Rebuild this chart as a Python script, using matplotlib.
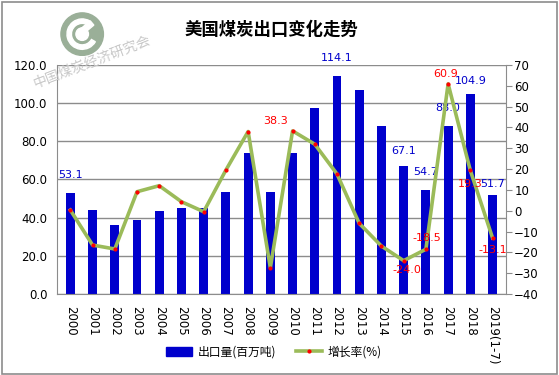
import matplotlib.pyplot as plt
from matplotlib.patches import Rectangle, Circle, Wedge
from matplotlib.lines import Line2D
import numpy as np

plt.rcParams['font.family'] = ['DejaVu Sans', 'Noto Sans CJK SC']

# data
years = ['2000', '2001', '2002', '2003', '2004', '2005', '2006', '2007', '2008', '2009',
         '2010', '2011', '2012', '2013', '2014', '2015', '2016', '2017', '2018', '2019(1-7)']
exports = [53.1, 44.0, 36.2, 38.8, 43.5, 45.2, 45.2, 53.6, 74.1, 53.6,
           74.1, 97.6, 114.1, 107.0, 88.0, 67.1, 54.7, 88.0, 104.9, 51.7]
growth = [0.3, -16.5, -18.4, 9.1, 12.0, 4.3, -0.5, 19.5, 38.0, -27.4,
          38.3, 31.9, 17.6, -6.1, -17.0, -24.0, -18.5, 60.9, 19.3, -13.1]

# which points get value labels (index: offset in points)
bar_labelled = {0: 13, 12: 13, 15: 11, 16: 13, 17: 13, 18: 9, 19: 8}
line_labelled = {10: (-12, 7), 15: (2, -7), 16: (1, 8), 17: (-2, 7), 18: (0, -10), 19: (0, -9)}

blue = '#0000CC'
green = '#9BBB59'
red = '#FF0000'

fig = plt.figure(figsize=(5.59, 3.75), dpi=100)
fig.patches.append(Rectangle((0.004, 0.004), 0.992, 0.99, transform=fig.transFigure,
                             fill=False, edgecolor='#8c8c8c', lw=1.2))

ax = fig.add_axes([0.102, 0.216, 0.803, 0.611])
x = np.arange(len(years))

ax.bar(x, exports, width=0.4, color=blue, zorder=2)
ax.set_ylim(0, 120)
ax.set_yticks(np.arange(0, 121, 20))
ax.set_yticklabels([f'{v:.1f}' for v in np.arange(0, 121, 20)], fontsize=8.5)
ax.set_xlim(-0.6, len(years) - 0.4)
ax.set_xticks(x)
ax.set_xticklabels(years, rotation=-90, fontsize=8.5)
ax.tick_params(axis='y', length=0, pad=7)
ax.tick_params(axis='x', length=0, pad=9)
ax.grid(axis='y', color='#8c8c8c', lw=1, zorder=0)
ax.set_axisbelow(True)
for s in ['top', 'right']:
    ax.spines[s].set_visible(False)
for s in ['left', 'bottom']:
    ax.spines[s].set_color('#8c8c8c')

for i, off in bar_labelled.items():
    ax.annotate(f'{exports[i]:.1f}', (x[i], exports[i]), xytext=(0, off),
                textcoords='offset points', color=blue, ha='center', va='center',
                fontsize=8, annotation_clip=False, zorder=5)

ax2 = ax.twinx()
ax2.plot(x, growth, color=green, lw=2.6, zorder=3)
ax2.plot(x, growth, ls='none', marker='o', ms=2, color=red, zorder=4)
ax2.set_ylim(-40, 70)
ax2.set_yticks(np.arange(-40, 71, 10))
ax2.tick_params(axis='y', labelsize=8.5, length=4, color='#8c8c8c', pad=2)
for s in ['top', 'left', 'bottom']:
    ax2.spines[s].set_visible(False)
ax2.spines['right'].set_color('#8c8c8c')

for i, (dx, dy) in line_labelled.items():
    ax2.annotate(f'{growth[i]:.1f}', (x[i], growth[i]), xytext=(dx, dy),
                 textcoords='offset points', color=red, ha='center', va='center',
                 fontsize=8, zorder=6)

fig.text(0.485, 0.92, '美国煤炭出口变化走势', ha='center', va='center', fontsize=12.5,
         fontweight='bold', family=['Noto Sans CJK SC', 'DejaVu Sans'])

# watermark logo
lax = fig.add_axes([0.147 - 0.04, 0.909 - 0.06, 0.08, 0.12])
lax.set_xlim(-1, 1)
lax.set_ylim(-1, 1)
lax.set_aspect('equal')
lax.axis('off')
lax.add_patch(Circle((0, 0), 0.95, color='#9aaf98'))
lax.add_patch(Wedge((0, 0), 0.68, 60, 330, width=0.2, color='white'))
lax.add_patch(Circle((0, 0), 0.28, color='white'))
lax.add_patch(Rectangle((0.1, 0.05), 0.55, 0.25, angle=40, color='white'))

fig.text(0.165, 0.835, '中国煤炭经济研究会', rotation=21, fontsize=10, color='#c8c8c8',
         family=['Noto Sans CJK SC'], ha='center', va='center')

handles = [Rectangle((0, 0), 1, 1, color=blue),
           Line2D([], [], color=green, lw=2.6, marker='o', ms=2,
                  markerfacecolor=red, markeredgecolor=red)]
fig.legend(handles, ['出口量(百万吨)', '增长率(%)'], loc='center', ncol=2,
           bbox_to_anchor=(0.49, 0.061), frameon=False, handlelength=2.2,
           columnspacing=1.6, handletextpad=0.5,
           prop={'family': ['Noto Sans CJK SC'], 'size': 8.5})

fig.savefig('out.png', dpi=100)
